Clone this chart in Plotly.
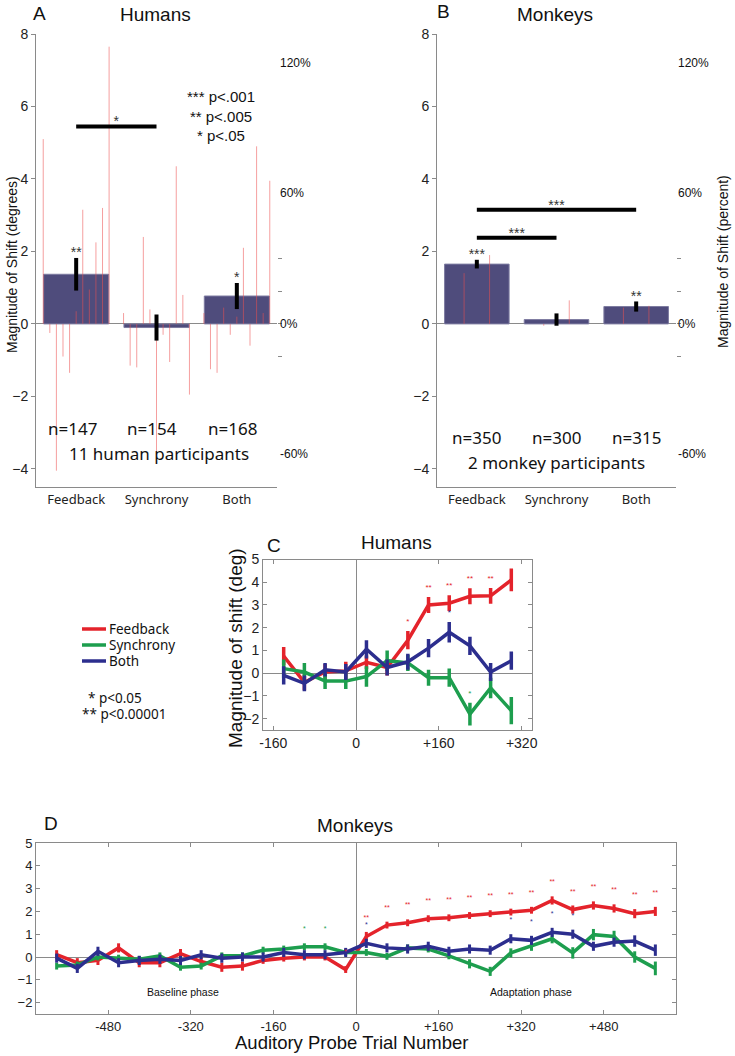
import plotly.graph_objects as go

W, H = 735, 1056

# ---------------- panels A / B : mean shift per condition (degrees)
conditions = ["Feedback", "Synchrony", "Both"]
human_mean = [1.37, -0.10, 0.77]
human_sem = [0.45, 0.36, 0.36]
monkey_mean = [1.65, 0.12, 0.48]
monkey_sem = [0.12, 0.17, 0.14]
human_n = ["n=147", "n=154", "n=168"]
monkey_n = ["n=350", "n=300", "n=315"]
human_sig = ["**", "", "*"]
monkey_sig = ["***", "", "**"]

# individual participants (11 humans, 2 monkeys)
human_subj = [
    [5.1, -0.25, -4.05, -0.9, -1.35, 0.35, 3.15, 0.95, 2.25, 3.2, 7.65],
    [0.3, -1.15, -1.2, 2.4, 0.4, -3.6, -0.3, -1.05, 4.35, 0.8, -1.95],
    [0.3, -1.25, -1.35, 0.45, -0.3, 0.2, 2.1, -0.6, 4.9, 0.3, 3.95],
]
monkey_subj = [
    [1.4, 1.9],
    [-0.05, 0.65],
    [0.45, 0.5],
]

# pairwise comparisons: (cond a, cond b, bracket height, label)
human_pairs = [(0, 1, 5.45, "*")]
monkey_pairs = [(0, 1, 2.38, "***"), (0, 2, 3.15, "***")]

# right-hand percent scale
pct_labels = [120, 60, 0, -60]
pct_minor = [30, 15, 0, -15]
deg_per_pct = 0.06

# ---------------- panel C : humans over probe trials
trial_C = [-140, -100, -60, -20, 20, 60, 100, 140, 180, 220, 260, 300]
C_feedback = [0.75, -0.4, 0.05, 0.1, 0.48, 0.25, 1.45, 3.0, 3.08, 3.38, 3.4, 4.1]
C_feedback_err = [0.4, 0.35, 0.35, 0.4, 0.3, 0.35, 0.4, 0.35, 0.35, 0.35, 0.35, 0.5]
C_sync = [0.2, 0.05, -0.35, -0.35, -0.15, 0.55, 0.45, -0.2, -0.2, -1.8, -0.65, -1.65]
C_sync_err = [0.4, 0.4, 0.35, 0.35, 0.45, 0.45, 0.35, 0.35, 0.4, 0.5, 0.45, 0.6]
C_both = [-0.1, -0.45, 0.15, 0.05, 1.05, 0.25, 0.5, 1.1, 1.8, 1.2, 0.05, 0.55]
C_both_err = [0.4, 0.35, 0.3, 0.35, 0.4, 0.35, 0.35, 0.4, 0.45, 0.4, 0.4, 0.4]
C_sig_feedback = ["", "", "", "", "", "", "*", "**", "**", "**", "**", "**"]
C_sig_sync = ["", "", "", "", "", "", "", "", "", "*", "", ""]
C_sig_both = ["", "", "", "", "", "", "", "", "*", "", "", ""]

# ---------------- panel D : monkeys over probe trials
trial_D = [-580, -540, -500, -460, -420, -380, -340, -300, -260, -220, -180, -140, -100, -60, -20,
           20, 60, 100, 140, 180, 220, 260, 300, 340, 380, 420, 460, 500, 540, 580]
D_feedback = [0.1, -0.25, -0.15, 0.4, -0.25, -0.25, 0.15, -0.2, -0.45, -0.4, -0.15, -0.05, 0.0, 0.0, -0.55,
              0.9, 1.4, 1.5, 1.68, 1.72, 1.82, 1.9, 1.97, 2.05, 2.48, 2.08, 2.26, 2.13, 1.9, 2.0]
D_feedback_err = [0.2, 0.2, 0.2, 0.2, 0.2, 0.2, 0.2, 0.2, 0.2, 0.2, 0.15, 0.15, 0.15, 0.15, 0.15,
                  0.2, 0.15, 0.15, 0.15, 0.15, 0.15, 0.15, 0.15, 0.15, 0.18, 0.18, 0.18, 0.18, 0.2, 0.2]
D_sync = [-0.4, -0.35, 0.0, -0.05, -0.1, 0.05, -0.45, -0.4, 0.05, 0.05, 0.3, 0.35, 0.45, 0.45, 0.2,
          0.2, 0.03, 0.4, 0.35, 0.05, -0.3, -0.63, 0.18, 0.47, 0.8, 0.18, 0.98, 0.9, 0.0, -0.5]
D_sync_err = [0.15, 0.15, 0.15, 0.15, 0.15, 0.15, 0.15, 0.15, 0.15, 0.15, 0.15, 0.15, 0.15, 0.15, 0.15,
              0.15, 0.15, 0.15, 0.15, 0.15, 0.2, 0.2, 0.2, 0.2, 0.2, 0.25, 0.25, 0.25, 0.25, 0.3]
D_both = [-0.05, -0.5, 0.25, -0.25, -0.15, -0.1, -0.15, 0.1, -0.05, 0.0, 0.0, 0.2, 0.1, 0.1, 0.2,
          0.6, 0.4, 0.35, 0.47, 0.25, 0.35, 0.3, 0.8, 0.73, 1.08, 1.0, 0.47, 0.65, 0.7, 0.3]
D_both_err = [0.2, 0.2, 0.2, 0.2, 0.2, 0.2, 0.2, 0.2, 0.2, 0.2, 0.2, 0.2, 0.2, 0.2, 0.2,
              0.2, 0.2, 0.2, 0.2, 0.2, 0.2, 0.2, 0.2, 0.2, 0.2, 0.2, 0.2, 0.2, 0.25, 0.25]
D_sig_feedback = [""] * 14 + ["*"] + ["**"] * 15
D_sig_sync = [""] * 12 + ["*", "*"] + [""] * 16
D_sig_both = [""] * 15 + ["*", "", "", "", "", "", "", "*", "*", "*", "*", "", "", "", ""]

series_names = ["Feedback", "Synchrony", "Both"]
RED, GREEN, BLUE = "#e4232b", "#1d9e4e", "#2c2e8e"
series_colors = [RED, GREEN, BLUE]
BAR = "#4f4c7c"
GREY = "#8a8a8a"
HELV = "Liberation Sans, Arial, sans-serif"
MYR = "Noto Sans, sans-serif"


def xd(a, b):
    return [a / W, b / W]


def yd(top, bot):
    return [1 - bot / H, 1 - top / H]


fig = go.Figure()


def bar_panel(xa, ya, means, sems, subj, spread, sig, pairs):
    fig.add_trace(go.Bar(x=[0, 1, 2], y=means, width=0.81, xaxis=xa, yaxis=ya,
                         marker=dict(color=BAR, line=dict(color="#7d7ba0", width=1)),
                         showlegend=False))
    xs, ys = [], []
    for ci, vals in enumerate(subj):
        k = len(vals)
        for j, v in enumerate(vals):
            off = -spread + 2 * spread * j / (k - 1)
            xs += [ci + off, ci + off, None]
            ys += [0, v, None]
    fig.add_trace(go.Scatter(x=xs, y=ys, mode="lines", xaxis=xa, yaxis=ya,
                             line=dict(color="rgba(236,80,80,0.55)", width=1), showlegend=False))
    fig.add_trace(go.Scatter(x=[0, 1, 2], y=means, mode="markers", xaxis=xa, yaxis=ya,
                             marker=dict(size=1, color="black"),
                             error_y=dict(type="data", array=sems, thickness=4, width=0, color="black"),
                             showlegend=False))
    fig.add_trace(go.Scatter(x=[0, 1, 2], y=[m + s + 0.12 for m, s in zip(means, sems)],
                             mode="text", text=sig, xaxis=xa, yaxis=ya,
                             textfont=dict(size=14, color="#333", family=HELV), showlegend=False))
    for a, b, h, lab in pairs:
        fig.add_trace(go.Scatter(x=[a, b], y=[h, h], mode="lines", xaxis=xa, yaxis=ya,
                                 line=dict(color="black", width=4), showlegend=False))
        fig.add_trace(go.Scatter(x=[(a + b) / 2], y=[h + 0.1], mode="text", text=[lab],
                                 xaxis=xa, yaxis=ya,
                                 textfont=dict(size=14, color="#333", family=HELV), showlegend=False))


bar_panel("x", "y", human_mean, human_sem, human_subj, 0.41, human_sig, human_pairs)
bar_panel("x2", "y2", monkey_mean, monkey_sem, monkey_subj, 0.16, monkey_sig, monkey_pairs)
fig.add_trace(go.Scatter(x=[None], y=[None], xaxis="x", yaxis="y5", showlegend=False))
fig.add_trace(go.Scatter(x=[None], y=[None], xaxis="x2", yaxis="y6", showlegend=False))


def line_panel(xa, ya, xs, vals, errs, sigs, thick, off, star_size):
    for v, e, s, c in zip(vals, errs, sigs, series_colors):
        fig.add_trace(go.Scatter(x=xs, y=v, mode="lines", xaxis=xa, yaxis=ya,
                                 line=dict(color=c, width=3.5),
                                 error_y=dict(type="data", array=e, thickness=thick, width=0, color=c),
                                 showlegend=False))
    for v, e, s, c in zip(vals, errs, sigs, series_colors):
        fig.add_trace(go.Scatter(x=xs, y=[a + b + off for a, b in zip(v, e)], mode="text", text=s,
                                 xaxis=xa, yaxis=ya, textfont=dict(size=star_size, color=c, family=HELV),
                                 showlegend=False))


line_panel("x3", "y3", trial_C, [C_feedback, C_sync, C_both], [C_feedback_err, C_sync_err, C_both_err],
           [C_sig_feedback, C_sig_sync, C_sig_both], 3.5, 0.4, 8)
line_panel("x4", "y4", trial_D, [D_feedback, D_sync, D_both], [D_feedback_err, D_sync_err, D_both_err],
           [D_sig_feedback, D_sig_sync, D_sig_both], 3, 0.6, 7)

# ---------------- axes
bar_x = dict(range=[-0.5, 2.5], tickvals=[0, 1, 2], ticktext=conditions, showline=True,
             linecolor=GREY, linewidth=1, ticks="", showgrid=False, zeroline=False, automargin=False,
             tickfont=dict(family=MYR, size=13, color="#222"))
bar_y = dict(range=[-4.5, 8], tickvals=[-4, -2, 0, 2, 4, 6, 8], showline=True, linecolor=GREY,
             linewidth=1, ticks="outside", ticklen=4, tickcolor=GREY, showgrid=False,
             zeroline=True, zerolinecolor=GREY, zerolinewidth=1, automargin=False,
             tickfont=dict(family=HELV, size=14, color="#222"))
pct_y = dict(range=[-4.5, 8], side="right", tickvals=[p * deg_per_pct for p in pct_minor],
             showticklabels=False, ticks="outside", ticklen=4, tickcolor=GREY, showline=False,
             showgrid=False, zeroline=False, automargin=False)
box_common = dict(showline=True, mirror="ticks", linecolor=GREY, linewidth=1, ticks="inside",
                  ticklen=4, tickcolor=GREY, showgrid=False, zeroline=True, zerolinecolor=GREY,
                  zerolinewidth=1, automargin=False)

fig.update_layout(
    width=W, height=H, margin=dict(l=0, r=0, t=0, b=0, autoexpand=False),
    plot_bgcolor="white", paper_bgcolor="white", showlegend=False,
    xaxis=dict(domain=xd(36, 277), anchor="y", **bar_x),
    yaxis=dict(domain=yd(34, 487), anchor="x", **bar_y),
    xaxis2=dict(domain=xd(437, 676), anchor="y2", **bar_x),
    yaxis2=dict(domain=yd(34, 487), anchor="x2", **bar_y),
    yaxis5=dict(overlaying="y", anchor="x", **pct_y),
    yaxis6=dict(overlaying="y2", anchor="x2", **pct_y),
    xaxis3=dict(domain=xd(263, 532), anchor="y3", range=[-180, 340], tickvals=[-160, 0, 160, 320],
                ticktext=["-160", "0", "+160", "+320"],
                tickfont=dict(family=HELV, size=14, color="#222"), **box_common),
    yaxis3=dict(domain=yd(559.5, 730), anchor="x3", range=[-2.5, 5], dtick=1,
                tickfont=dict(family=HELV, size=14, color="#222"), **box_common),
    xaxis4=dict(domain=xd(36, 676), anchor="y4", range=[-620, 620],
                tickvals=[-480, -320, -160, 0, 160, 320, 480],
                ticktext=["-480", "-320", "-160", "0", "+160", "+320", "+480"],
                tickfont=dict(family=HELV, size=13, color="#222"), **box_common),
    yaxis4=dict(domain=yd(843, 1014), anchor="x4", range=[-2.5, 5], dtick=1,
                tickfont=dict(family=HELV, size=13, color="#222"), **box_common),
)


def note(text, x, y, size, family=HELV, xanchor="center", angle=0, color="#111", ref=None):
    d = dict(text=text, showarrow=False, xanchor=xanchor, yanchor="middle", textangle=angle,
             font=dict(size=size, family=family, color=color), borderpad=0)
    if ref:
        d.update(xref=ref[0], yref=ref[1], x=x, y=y)
    else:
        d.update(xref="paper", yref="paper", x=x / W, y=1 - y / H)
    fig.add_annotation(**d)


# titles and panel letters
note("A", 39, 13, 19)
note("Humans", 155, 15, 19)
note("B", 443, 12, 19)
note("Monkeys", 555, 15, 19)
note("C", 274, 545, 19)
note("Humans", 396, 542, 19)
note("D", 51, 823, 19)
note("Monkeys", 355, 825, 19)

# axis titles
note("Magnitude of Shift (degrees)", 12, 265, 14, angle=-90)
note("Magnitude of Shift (percent)", 723, 262, 14, angle=-90)
note("Magnitude of shift (deg)", 235, 648, 19, angle=-90)
note("Auditory Probe Trial Number", 351, 1042, 18.5)

# percent labels on the right of A and B
for p in pct_labels:
    note(f"{p}%", 279 / W, p * deg_per_pct, 12, xanchor="left", ref=("paper", "y"))
    note(f"{p}%", 677 / W, p * deg_per_pct, 12, xanchor="left", ref=("paper", "y2"))

# p-value key for A
note("*** p<.001<br>** p<.005<br>* p<.05", 2.24, 5.73, 15, xanchor="right", ref=("x", "y"))

# n counts and participant notes
for i, t in enumerate(human_n):
    note(t, i - 0.05, -2.88, 17, family=MYR, ref=("x", "y"))
note("11 human participants", 1.03, -3.57, 17, family=MYR, ref=("x", "y"))
for i, t in enumerate(monkey_n):
    note(t, i, -3.13, 17, family=MYR, ref=("x2", "y2"))
note("2 monkey participants", 1.0, -3.82, 17, family=MYR, ref=("x2", "y2"))

# legend for C (line samples + labels)
for k, (name, col) in enumerate(zip(series_names, series_colors)):
    yy = 629 + 16 * k
    fig.add_shape(type="line", xref="paper", yref="paper", x0=82 / W, x1=106 / W,
                  y0=1 - yy / H, y1=1 - yy / H, line=dict(color=col, width=3.5))
    note(name, 108, yy, 13.5, family=MYR, xanchor="left")
note("* p<0.05", 87, 698, 13.5, family=MYR, xanchor="left")
note("** p<0.00001", 81, 714, 13.5, family=MYR, xanchor="left")

# phase labels in D
note("Baseline phase", -335, -1.55, 10.5, ref=("x4", "y4"))
note("Adaptation phase", 340, -1.55, 10.5, ref=("x4", "y4"))

fig.write_html("out.html", config={"displayModeBar": False},
               post_script="document.body.style.margin='0';")
